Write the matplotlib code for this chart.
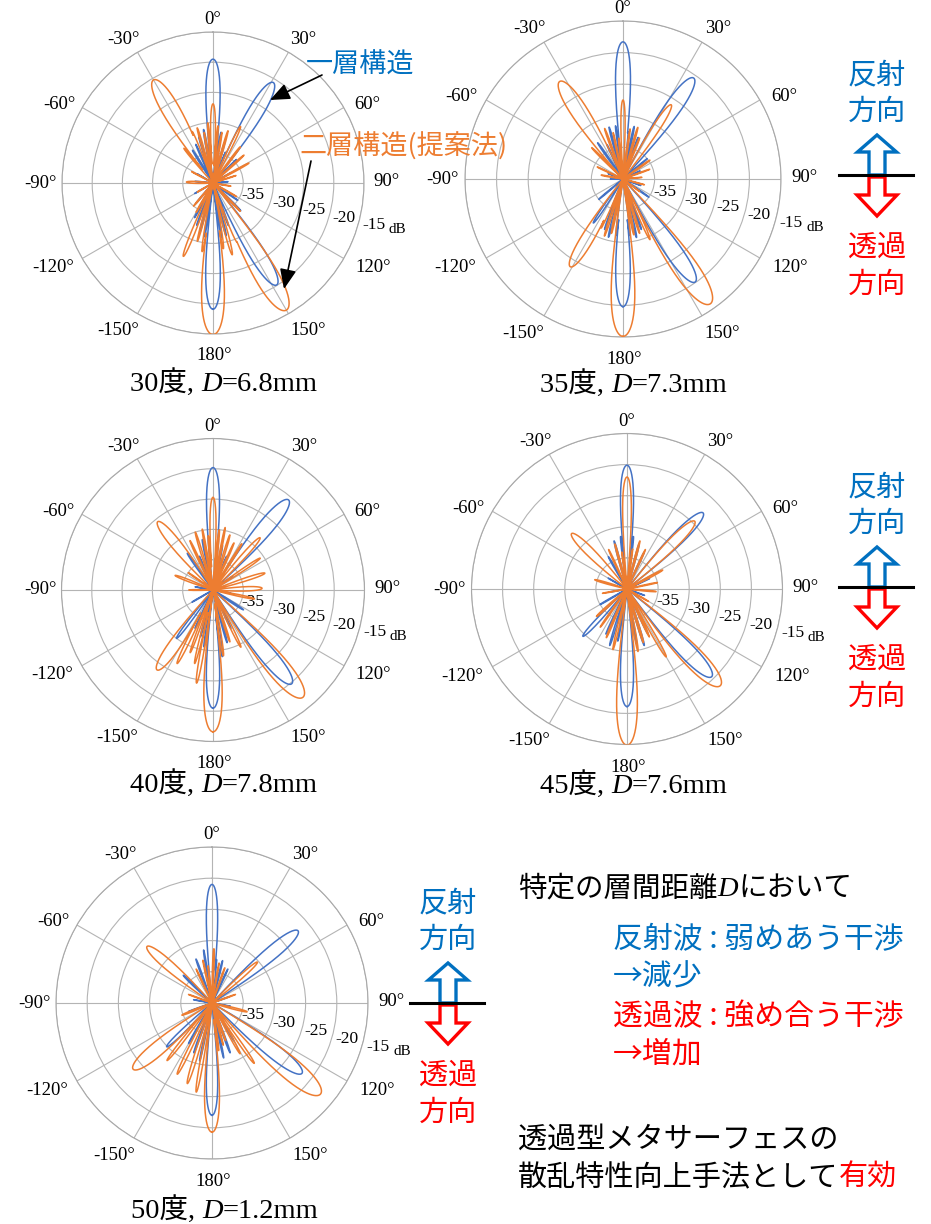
import numpy as np
import matplotlib
matplotlib.use("Agg")
import matplotlib.pyplot as plt
from matplotlib.patches import FancyArrow

W, H = 931, 1224
SERIF = "Liberation Serif"
JP = ["Noto Sans CJK JP", "DejaVu Sans"]
CAP = ["Liberation Serif", "Noto Sans CJK JP"]

BLUE_LINE = "#4472C4"
ORANGE_LINE = "#ED7D31"
BLUE_TXT = "#0070C0"
RED_TXT = "#FF0000"

theta_ticks = np.arange(0, 360, 30)
theta_labels = ["0°", "30°", "60°", "90°", "120°", "150°", "180°",
                "-150°", "-120°", "-90°", "-60°", "-30°"]
# centre of each angle label, in units of the ring radius (x right, y up)
theta_label_x = [0.0, 0.60, 1.02, 1.15, 1.06, 0.63, 0.01, -0.63, -1.06, -1.14, -1.02, -0.59]
theta_label_y = [1.08, 0.95, 0.52, 0.01, -0.56, -0.975, -1.145, -0.975, -0.56, 0.0, 0.52, 0.95]
r_ticks = [-35, -30, -25, -20, -15]
r_labels = ["-35", "-30", "-25", "-20", "-15"]
r_min = -40

# lobes: (direction deg, peak dB, half width deg)
# blue = 一層構造, orange = 二層構造(提案法)

# 30度, D=6.8mm
b30 = [(0, -19.5, 7), (31, -20.6, 8), (148, -20.1, 8), (180, -19.1, 7),
       (-32, -33.6, 3.5), (-24, -33.0, 2.5), (-17, -32.0, 2.5), (-10, -31.0, 2.5),
       (9, -31.5, 2.5), (16, -33.0, 2.5), (22, -34.5, 2), (45, -34.5, 3), (60, -36.5, 3),
       (85, -37.5, 5), (-85, -37.0, 5), (-60, -37.0, 3), (100, -38.0, 4), (125, -35.0, 3),
       (135, -33.5, 3), (160, -32.5, 2.5), (166, -31.0, 2.5), (171, -30.8, 2),
       (-171, -31.0, 2), (-165, -31.5, 2.5), (-159, -32.5, 2.5), (-152, -33.5, 3),
       (-140, -35.5, 3), (-120, -36.5, 3)]
o30 = [(0, -26.9, 4.5), (-30, -20.3, 9), (150, -15.7, 9), (180, -14.9, 8.5),
       (-40, -32.5, 3), (-22, -30.8, 2.5), (-16, -30.5, 2.5), (-10, -31.5, 2), (-5, -30.0, 2),
       (5, -30.5, 2), (10, -31.5, 2), (16, -31.0, 2.5), (26, -29.6, 3.5), (37, -32.5, 3),
       (48, -33.1, 3), (61, -33.2, 3), (72, -36.0, 3), (-88, -35.6, 9), (-62, -36.0, 3),
       (100, -37.0, 4), (120, -35.5, 3), (136, -33.5, 3), (158, -29.5, 3), (165, -27.7, 3),
       (171, -29.0, 2.5), (-171, -28.5, 2.5), (-165, -30.0, 2.5), (-158, -26.9, 3.5),
       (-150, -34.4, 3), (-140, -35.0, 3), (-120, -37.0, 3)]

# 35度, D=7.3mm
b35 = [(0, -18.3, 6.5), (35, -20.5, 8), (145, -20.1, 8), (180, -19.8, 7),
       (-35, -33.0, 3), (-25, -34.0, 2.5), (-15, -31.5, 2.5), (-8, -31.5, 2), (-3, -32.0, 2),
       (6, -32.5, 2), (12, -31.5, 2.5), (20, -33.0, 2.5), (50, -35.0, 3), (65, -37.0, 3),
       (-70, -37.5, 3), (-90, -38.0, 4), (110, -37.0, 3), (125, -35.0, 3), (160, -31.5, 2.5),
       (167, -30.5, 2.5), (173, -31.0, 2), (-173, -31.0, 2), (-166, -30.5, 2.5),
       (-160, -31.5, 2.5), (-146, -31.6, 4), (-130, -35.0, 3)]
o35 = [(-33, -21.6, 9), (0, -27.5, 4), (33, -26.0, 6), (145, -15.9, 9), (180, -15.1, 8.5),
       (-149, -23.8, 8), (-45, -33.0, 3), (-20, -31.5, 2.5), (-12, -32.5, 2), (-6, -33.5, 2),
       (8, -32.0, 2), (16, -31.5, 2.5), (22, -33.0, 2.5), (55, -34.8, 4), (70, -35.5, 3),
       (85, -37.0, 3), (105, -36.5, 3), (127, -36.7, 3), (156, -29.5, 3), (163, -31.0, 2.5),
       (169, -31.0, 2.5), (-168, -31.2, 2.5), (-162, -30.5, 2.5), (-156, -31.5, 2.5),
       (-80, -36.5, 5), (-65, -35.5, 3)]

# 40度, D=7.8mm
b40 = [(0, -19.8, 6.5), (40, -20.6, 8), (140, -19.8, 8), (180, -20.5, 7),
       (-35, -32.6, 3.5), (-22, -34.0, 2.5), (-12, -31.5, 2.5), (-5, -31.0, 2), (6, -31.5, 2),
       (12, -32.5, 2.5), (22, -34.0, 2.5), (55, -36.0, 3), (100, -37.0, 3), (123, -34.0, 4),
       (155, -33.0, 2.5), (165, -31.0, 2.5), (172, -28.9, 2.5), (-171, -30.5, 2.5),
       (-165, -32.0, 2.5), (-155, -33.0, 2.5), (-143, -30.0, 4), (-120, -36.0, 3),
       (-80, -37.0, 3)]
o40 = [(0, -24.7, 4.5), (-39, -25.5, 8), (42, -28.4, 5), (140, -16.9, 9), (180, -16.6, 7.5),
       (-145, -23.9, 8), (-25, -31.0, 2.5), (-17, -30.0, 2.5), (-10, -29.8, 2), (-5, -31.0, 2),
       (6, -30.0, 2), (11, -29.5, 2), (17, -30.5, 2.5), (24, -31.5, 2.5), (32, -31.0, 2.5),
       (56, -30.6, 3.5), (72, -31.0, 5), (88, -31.9, 8), (102, -33.0, 4), (-90, -36.0, 4),
       (-69, -33.3, 5), (-55, -35.0, 3), (154, -29.5, 3), (162, -31.0, 2.5), (171, -29.0, 2.5),
       (-175, -30.0, 2), (-170, -24.4, 2.5), (-166, -27.5, 2.5), (-160, -29.0, 2.5),
       (-154, -26.5, 3)]

# 45度, D=7.6mm
b45 = [(0, -20.1, 6.5), (45, -22.7, 7.5), (136, -20.4, 8), (180, -21.1, 7), (-137, -29.6, 5),
       (-30, -34.0, 3), (-15, -32.0, 2.5), (-7, -31.5, 2), (7, -31.5, 2), (15, -32.5, 2.5),
       (25, -33.5, 2.5), (-60, -36.5, 3), (65, -36.0, 3), (110, -37.0, 3), (155, -32.0, 2.5),
       (163, -30.5, 2.5), (170, -31.0, 2), (-170, -31.5, 2), (-163, -30.5, 2.5),
       (-155, -32.0, 2.5), (-120, -35.0, 3), (-100, -37.0, 3)]
o45 = [(0, -22.0, 5), (45, -24.6, 7.5), (-45, -27.4, 8), (136, -18.4, 9), (180, -14.9, 7.5),
       (-25, -33.0, 2.5), (-15, -32.5, 2.5), (-8, -34.0, 2), (8, -33.5, 2), (15, -32.0, 2.5),
       (25, -33.0, 2.5), (62, -33.5, 4), (78, -35.0, 3), (95, -35.3, 4), (-100, -36.0, 3),
       (-74, -34.6, 5), (120, -36.0, 3), (150, -27.4, 3), (155, -31.5, 2.5), (163, -31.0, 2.5),
       (170, -29.8, 2.5), (-174, -31.0, 2), (-167, -30.0, 2.5), (-157, -31.5, 2.5),
       (-145, -32.5, 2.5), (-132, -33.4, 4)]

# 50度, D=1.2mm
b50 = [(0, -21.0, 6), (50, -22.0, 7.5), (128, -21.7, 8), (180, -22.0, 6.5), (-134, -29.9, 5),
       (-46, -33.6, 4), (-20, -32.5, 2.5), (-9, -31.4, 2), (-4, -32.5, 2), (6, -33.0, 2),
       (14, -33.0, 2.5), (25, -34.0, 2.5), (70, -37.0, 3), (100, -37.0, 3), (150, -33.0, 2.5),
       (160, -31.5, 2.5), (168, -31.0, 2), (-168, -30.5, 2), (-160, -31.5, 2.5),
       (-150, -32.5, 2.5), (-110, -36.0, 3), (-80, -37.0, 3)]
o50 = [(-49, -26.2, 8), (48, -30.2, 5), (130, -17.3, 9), (180, -19.3, 7), (-130, -23.5, 9),
       (2, -31.3, 2.5), (-25, -34.0, 2.5), (-12, -33.0, 2), (-6, -34.0, 2), (10, -33.5, 2),
       (20, -34.0, 2.5), (70, -36.0, 3), (104, -34.2, 5), (145, -28.2, 3), (151, -30.7, 3),
       (160, -33.6, 2.5), (165, -33.0, 2), (172, -32.3, 2.5), (-170, -25.5, 2.5),
       (-163, -26.5, 3), (-154, -27.3, 3), (-142, -28.3, 3), (-112, -34.8, 5), (-70, -36.0, 3)]

captions = ["30度, ", "35度, ", "40度, ", "45度, ", "50度, "]
d_values = ["=6.8mm", "=7.3mm", "=7.8mm", "=7.6mm", "=1.2mm"]


def pattern(lobes, theta):
    r = np.full(theta.shape, float(r_min))
    for a, p, hw in lobes:
        d = (theta - a + 180) % 360 - 180
        m = np.abs(d) < hw
        g = p + 20 * np.log10(np.clip(np.cos(np.pi / 2 * d[m] / hw), 1e-4, None))
        r[m] = np.maximum(r[m], g)
    return r


fig = plt.figure(figsize=(W / 100, H / 100), dpi=100)
theta = np.linspace(-180, 180, 14401)


def polar_panel(cx, cy, R, blue, orange):
    ax = fig.add_axes([(cx - R) / W, (H - cy - R) / H, 2 * R / W, 2 * R / H], projection="polar")
    ax.set_facecolor("none")
    ax.set_theta_zero_location("N")
    ax.set_theta_direction(-1)
    ax.plot(np.deg2rad(theta), pattern(blue, theta), color=BLUE_LINE, lw=1.1, zorder=3)
    ax.plot(np.deg2rad(theta), pattern(orange, theta), color=ORANGE_LINE, lw=1.1, zorder=4)
    ax.set_ylim(r_min, -15)
    ax.set_yticks(r_ticks)
    ax.set_yticklabels([])
    ax.set_xticks(np.deg2rad(theta_ticks))
    ax.set_xticklabels([])
    ax.grid(True, color="#b4b4b4", lw=0.8)
    ax.spines["polar"].set_color("#a8a8a8")
    ax.spines["polar"].set_linewidth(0.8)
    # angle labels around the ring
    for lab, lx, ly in zip(theta_labels, theta_label_x, theta_label_y):
        ax.text(0.5 + lx / 2, 0.5 + ly / 2, lab, transform=ax.transAxes,
                ha="center", va="center", fontfamily=SERIF, fontsize=13.5)
    # dB ring labels, below the 90° spoke
    for f, lab in zip(np.linspace(0.2, 1.0, 5), r_labels):
        ax.text(0.5 + (f - 0.01) / 2, 0.5 - (0.03 + 0.25 * f) / 2, lab, transform=ax.transAxes,
                ha="left", va="center", fontfamily=SERIF, fontsize=12.5)
    ax.text(0.5 + 1.163 / 2, 0.5 - 0.31 / 2, "dB", transform=ax.transAxes,
            ha="left", va="center", fontfamily=SERIF, fontsize=11)
    return ax


panels = [(213, 183, 151, b30, o30), (623, 179, 158, b35, o35),
          (213, 590, 151.5, b40, o40), (627, 589, 155.5, b45, o45),
          (212, 1003, 156, b50, o50)]
for cx, cy, R, b, o in panels:
    polar_panel(cx, cy, R, b, o)

# overlay in pixel coordinates for the annotations
bg = fig.add_axes([0, 0, 1, 1], zorder=10)
bg.set_xlim(0, W)
bg.set_ylim(H, 0)
bg.axis("off")
renderer = fig.canvas.get_renderer()


def chain(x, y, pieces, size):
    for s, fam, style, color in pieces:
        t = bg.text(x, y, s, fontsize=size, family=fam, style=style, color=color,
                    ha="left", va="baseline")
        x += t.get_window_extent(renderer).width


cap_pos = [(130, 391), (540, 392), (130, 792), (540, 793), (131, 1218)]
for (x, y), c, dv in zip(cap_pos, captions, d_values):
    chain(x, y, [(c, CAP, "normal", "black"), ("D", SERIF, "italic", "black"),
                 (dv, SERIF, "normal", "black")], 20.5)

# legend-like labels in the first panel
bg.text(306, 73, "一層構造", family=JP, fontsize=19.5, color=BLUE_TXT, va="baseline")
bg.text(299, 155, "二層構造(提案法)", family=JP, fontsize=19.5, color=ORANGE_LINE, va="baseline")
arrow_kw = dict(arrowstyle="-|>,head_length=0.6,head_width=0.25", color="black", lw=1.2,
                mutation_scale=20, shrinkA=0, shrinkB=0)
bg.annotate("", xy=(270, 100), xytext=(322, 75), arrowprops=arrow_kw)
bg.annotate("", xy=(284, 289), xytext=(311, 161), arrowprops=arrow_kw)


def direction_marker(xc, yl):
    bg.text(xc, yl - 92, "反射", family=JP, fontsize=21, color=BLUE_TXT, ha="center", va="baseline")
    bg.text(xc, yl - 55, "方向", family=JP, fontsize=21, color=BLUE_TXT, ha="center", va="baseline")
    bg.text(xc, yl + 81, "透過", family=JP, fontsize=21, color=RED_TXT, ha="center", va="baseline")
    bg.text(xc, yl + 118, "方向", family=JP, fontsize=21, color=RED_TXT, ha="center", va="baseline")
    bg.add_patch(FancyArrow(xc, yl, 0, -40, width=16, head_width=39, head_length=17,
                            length_includes_head=True, fc="white", ec=BLUE_TXT, lw=2.4))
    bg.add_patch(FancyArrow(xc, yl + 2, 0, 39, width=16, head_width=40, head_length=21,
                            length_includes_head=True, fc="white", ec=RED_TXT, lw=2.4))
    bg.plot([xc - 38, xc + 36], [yl, yl], color="black", lw=2.2, zorder=5)


direction_marker(877, 175)
direction_marker(877, 587)
direction_marker(448, 1003)

# explanation text
chain(518, 896, [("特定の層間距離", JP, "normal", "black"), ("D", SERIF, "italic", "black"),
                 ("において", JP, "normal", "black")], 20.5)
bg.text(613, 948, "反射波 : 弱めあう干渉", family=JP, fontsize=21.5, color=BLUE_TXT, va="baseline")
bg.text(613, 986, "→減少", family=JP, fontsize=21.5, color=BLUE_TXT, va="baseline")
bg.text(613, 1025, "透過波 : 強め合う干渉", family=JP, fontsize=21.5, color=RED_TXT, va="baseline")
bg.text(613, 1063, "→増加", family=JP, fontsize=21.5, color=RED_TXT, va="baseline")
bg.text(518, 1148, "透過型メタサーフェスの", family=JP, fontsize=21, color="black", va="baseline")
chain(518, 1186, [("散乱特性向上手法として", JP, "normal", "black"),
                  ("有効", JP, "normal", RED_TXT)], 21)

fig.savefig("out.png", dpi=100)
